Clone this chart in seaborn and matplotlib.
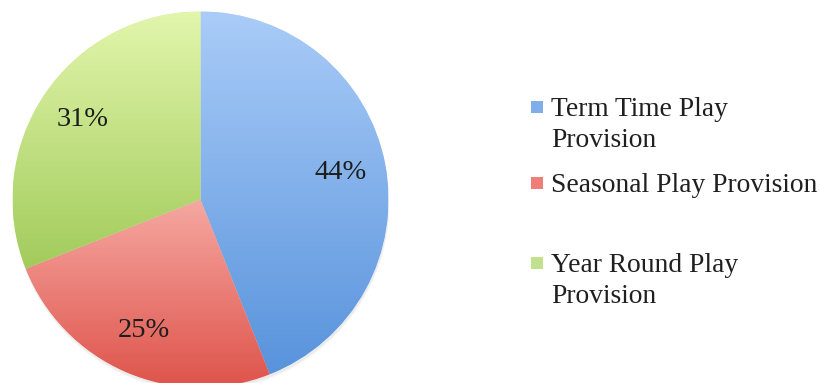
import numpy as np
import matplotlib
matplotlib.use("Agg")
import matplotlib.pyplot as plt
from matplotlib.patches import Circle, Rectangle
from matplotlib.colors import to_rgb
import seaborn as sns

# Share of play provision by type
categories = ["Term Time Play\nProvision", "Seasonal Play Provision", "Year Round Play\nProvision"]
shares = [44, 25, 31]
pct_labels = [f"{v}%" for v in shares]

# Vertical gradient of each slice: light at the top, deeper at the bottom
top_colors = ["#AACCF8", "#F6A8A2", "#E2F6AC"]
bottom_colors = ["#5893DC", "#DE544B", "#A2CB5B"]
key_colors = ["#7FAEE9", "#EE7F78", "#C2E18D"]

sns.set_theme(style="white")
plt.rcParams["font.family"] = ["Liberation Serif", "DejaVu Serif"]

W, H = 819, 383
fig = plt.figure(figsize=(W / 100, H / 100), dpi=100)
fig.patch.set_facecolor("white")

# pie placement in pixels (measured from the top-left corner)
cx, cy, r = 200.5, 199.5, 188
ax = fig.add_axes([(cx - r) / W, (H - cy - r) / H, 2 * r / W, 2 * r / H])

# faint drop shadow under the lower edge of the pie
for i in range(4):
    ax.add_patch(Circle((0.004, -0.012 - 0.004 * i), 1.0, color="black",
                        alpha=0.018, lw=0, zorder=0))

wedges, texts = ax.pie(
    shares, startangle=90, counterclock=False, radius=1,
    labels=pct_labels, labeldistance=0.76, colors=bottom_colors,
    wedgeprops=dict(edgecolor="white", linewidth=0.4),
    textprops=dict(fontsize=20.5, color="#1d1d1d", ha="center", va="center"),
)

for w, c0, c1 in zip(wedges, top_colors, bottom_colors):
    ext = w.get_path().get_extents()
    t = np.linspace(0, 1, 256)[:, None]
    grad = (1 - t) * np.array(to_rgb(c0)) + t * np.array(to_rgb(c1))
    img = ax.imshow(grad[:, None, :], extent=(ext.x0, ext.x1, ext.y0, ext.y1),
                    origin="upper", aspect="auto", interpolation="bilinear",
                    zorder=w.get_zorder() + 0.1)
    img.set_clip_path(w)

for t_ in texts:
    t_.set_zorder(10)

ax.set_xlim(-1, 1)
ax.set_ylim(-1, 1)
ax.set_aspect("equal")
ax.axis("off")

# key on the right
baselines = [116, 192, 272]
line_step = 31
for name, col, b in zip(categories, key_colors, baselines):
    size = 12
    yc = b - 9
    fig.patches.append(Rectangle((531 / W, (H - yc - size / 2) / H), size / W, size / H,
                                 transform=fig.transFigure, facecolor=col,
                                 edgecolor="none"))
    for k, line in enumerate(name.split("\n")):
        fig.text(551 / W, (H - (b + k * line_step)) / H, line, fontsize=19.8,
                 color="#1f1f1f", ha="left", va="baseline")

fig.savefig("out.png", dpi=100)
